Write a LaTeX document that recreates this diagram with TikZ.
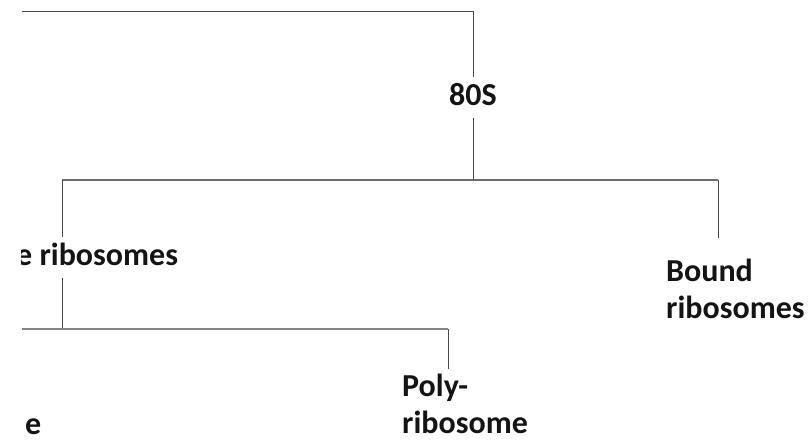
\documentclass[tikz,border=0pt]{standalone}
\usepackage{fontspec}
\setmainfont{Carlito}
\begin{document}
\begin{tikzpicture}[x=1pt,y=-1pt,
  lbl/.style={font=\fontsize{32}{37}\selectfont\bfseries, inner xsep=0pt, inner ysep=5pt,
              text height=23pt, text depth=8pt, text=black!92},
  mlbl/.style={font=\fontsize{32}{37}\selectfont\bfseries, inner xsep=0pt, inner ysep=4pt,
               text=black!92, align=left},
  ln/.style={draw=black!72, line width=1pt},
  lnmid/.style={draw=black!58, line width=1.4pt},
  lnlow/.style={draw=black!48, line width=2pt}]
\useasboundingbox (0,0) rectangle (811,440);
\clip (21,0) rectangle (811,440);

% nodes
\node[lbl, anchor=base] (n80) at (473,105) {80S};
\node[lbl, anchor=base west] (free) at (16,265) {e ribosomes};
\node[mlbl, anchor=base west] (bound) at (666,318) {Bound\\ribosomes};
\node[mlbl, anchor=base west] (poly) at (402,433) {Poly-\\ribosome};
\node[lbl, anchor=base west, text depth=0pt, inner ysep=1pt] (lowe) at (25,434) {e};

% junction coordinates
\coordinate (t0) at (22,11);
\coordinate (t1) at (473,11);
\coordinate (j1) at (473,180);
\coordinate (jl) at (62,180);
\coordinate (jr) at (718,180);
\coordinate (j2) at (62,329);
\coordinate (b0) at (22,329);
\coordinate (b1) at (448,329);

% connectors
\draw[ln] (t0) -- (t1) -- (n80.north);
\draw[ln] (n80.south) -- (j1);
\draw[lnmid] (jl) -- (jr);
\draw[ln] (jl) -- (free.north -| jl);
\draw[ln] (free.south -| jl) -- (j2);
\draw[ln, shorten >=16pt] (jr) -- (bound.north -| jr);
\draw[lnlow] (b0) -- (b1);
\draw[ln] (b1) -- (poly.north -| b1);
\end{tikzpicture}
\end{document}
